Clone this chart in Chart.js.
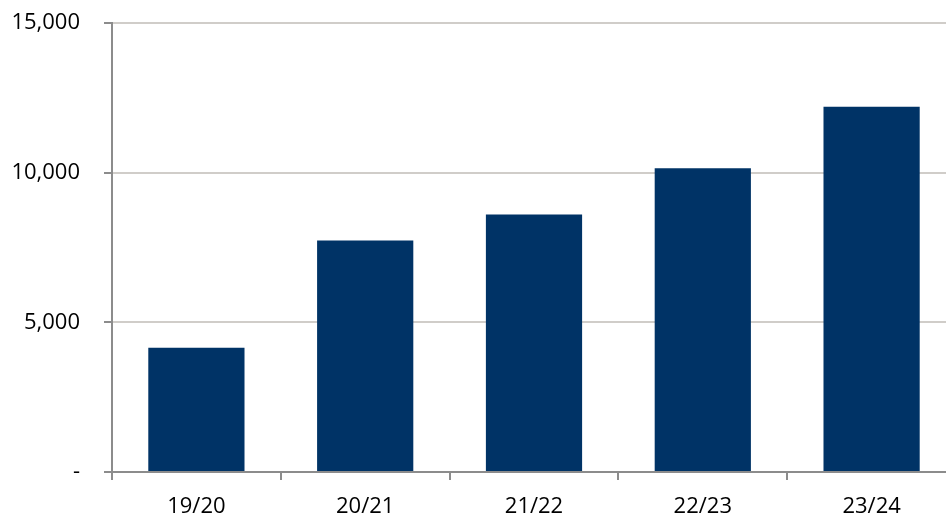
<!doctype html>
<html lang="en">
  <head>
    <meta charset="utf-8">
    <title>Bar chart</title>
    <style>
      * { margin: 0; padding: 0; }
      html, body { background: #fff; overflow: hidden; }
      /* the source image is cropped: the plot runs a little past the right edge */
      .chartBox { width: 956px; height: 520px; }
    </style>
  </head>
  <body>
    <div class="chartBox">
      <canvas id="myChart"></canvas>
    </div>
    <script src="https://cdn.jsdelivr.net/npm/chart.js/dist/chart.umd.min.js"></script>
    <script>
    // data
    const seasons = ['19/20', '20/21', '21/22', '22/23', '23/24']
    const values = [4150, 7730, 8600, 10150, 12200]
    const yTicks = [0, 5000, 10000, 15000]

    const font = { family: "'Open Sans', 'Noto Sans', sans-serif", size: 22 }

    const config = {
      type: 'bar',
      data: {
        labels: seasons,
        datasets: [{
          data: values,
          backgroundColor: '#003366',
          borderWidth: 0,
          barPercentage: 0.57,
          categoryPercentage: 1
        }]
      },
      options: {
        responsive: true,
        maintainAspectRatio: false,
        animation: false,
        layout: { padding: { top: 23, right: 0, left: 0, bottom: 0 } },
        plugins: { legend: { display: false }, tooltip: { enabled: false } },
        scales: {
          x: {
            offset: true,
            grid: {
              offset: true,
              drawOnChartArea: false,
              tickLength: 8,
              color: '#8c8c8c',
              lineWidth: 2
            },
            border: { color: '#8c8c8c', width: 2 },
            ticks: { color: '#000', font, padding: 14 },
            afterFit: s => { s.height = 48; s.paddingLeft = 0; s.paddingRight = 0 }
          },
          y: {
            min: 0,
            max: 15000,
            afterBuildTicks: s => { s.ticks = yTicks.map(v => ({ value: v })) },
            grid: {
              color: '#d0cdc9',
              lineWidth: 2,
              tickLength: 8,
              tickColor: '#8c8c8c'
            },
            border: { color: '#8c8c8c', width: 2 },
            ticks: {
              color: '#000',
              font,
              padding: 24,
              callback: v => v === 0 ? '-' : v.toLocaleString('en-US')
            },
            afterFit: s => { s.width = 112; s.paddingTop = 0; s.paddingBottom = 0 }
          }
        }
      }
    }

    const myChart = new Chart(document.getElementById('myChart'), config)
    </script>
  </body>
</html>
